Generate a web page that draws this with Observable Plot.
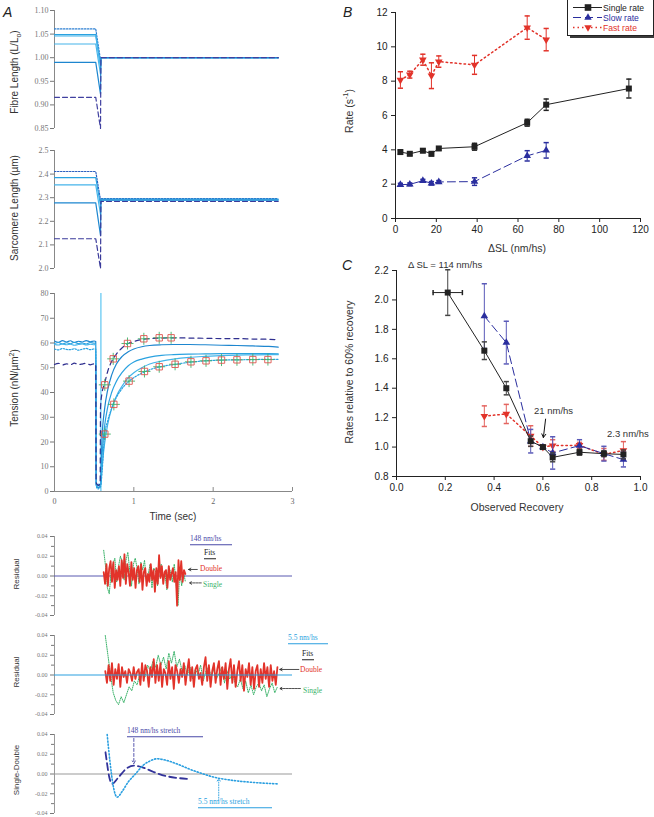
<!DOCTYPE html>
<html><head><meta charset="utf-8">
<script src="https://cdn.jsdelivr.net/npm/d3@7"></script>
<script src="https://cdn.jsdelivr.net/npm/@observablehq/plot@0.6"></script>
<style>
body{margin:0;background:#fff;}
#root{position:relative;width:654px;height:817px;overflow:hidden;font-family:"Liberation Sans",Arial,sans-serif;}
.t{position:absolute;white-space:nowrap;line-height:1;}
.t sub,.t sup{font-size:70%;line-height:0;}
svg{overflow:visible;}
</style></head><body><div id="root"></div>
<script>
// ================= DATA =================
// Panel A – length traces
const timeTicks = [0, 1, 2, 3];
const lenT = [0, 0.52, 0.58, 0.585, 2.82];
const fibrePre  = [1.061, 1.049, 1.046, 1.029, 0.990, 0.916];
const fibreMin  = [0.995, 0.986, 0.980, 0.965, 0.923, 0.850];
const fibrePost = [1.000, 1.000, 1.000, 1.000, 1.000, 1.000];
const fibreTicks = [0.85, 0.90, 0.95, 1.00, 1.05, 1.10];
const sarcPre  = [2.411, 2.385, 2.354, 2.278, 2.126];
const sarcMin  = [2.290, 2.268, 2.230, 2.140, 2.000];
const sarcPost = [2.296, 2.294, 2.291, 2.290, 2.284];
const sarcTicks = [2.0, 2.1, 2.2, 2.3, 2.4, 2.5];

// Panel A – tension
const tensionTicks = [0, 10, 20, 30, 40, 50, 60, 70, 80];
const tPre = [0, 0.05, 0.1, 0.15, 0.2, 0.25, 0.3, 0.35, 0.4, 0.45, 0.5, 0.52];
const tensionPre = [
  [60.8, 60.3, 61.0, 60.4, 60.9, 60.2, 60.7, 60.4, 61.0, 60.5, 60.8, 60.6],
  [59.8, 60.2, 59.6, 60.1, 59.7, 60.3, 59.8, 60.0, 59.6, 60.2, 59.9, 60.0],
  [59.4, 59.2, 59.6, 59.3, 59.5, 59.1, 59.4, 59.6, 59.2, 59.5, 59.3, 59.4],
  [57.6, 57.2, 57.8, 57.4, 57.3, 57.7, 57.1, 57.5, 57.8, 57.3, 57.6, 57.5],
  [51.3, 51.8, 51.1, 51.6, 51.2, 51.9, 51.3, 51.5, 51.8, 51.2, 51.6, 51.5]
];
const tDrop = [0.525, 0.55, 0.575];
const tensionDrop = [[3, 1.5, 2.5], [2, 3, 1.5], [1.5, 2.5, 3], [2.5, 1, 2], [3.5, 2.5, 3]];
const tRec = [0.58, 0.6, 0.63, 0.67, 0.72, 0.78, 0.85, 0.93, 1.0, 1.1, 1.2, 1.35, 1.5, 1.7, 1.9, 2.1, 2.3, 2.5, 2.7, 2.82];
const tensionRec = [
  [3, 22, 33, 41, 47, 51.5, 54.5, 56.5, 57.6, 58.5, 59, 59.3, 59.4, 59.4, 59.3, 59.1, 59, 58.8, 58.6, 58.3],
  [3, 15, 26, 34, 40, 44.5, 48, 50.8, 52.3, 53.5, 54.3, 55, 55.3, 55.5, 55.6, 55.7, 55.7, 55.7, 55.7, 55.6],
  [2, 10, 19, 27, 33.5, 38.5, 42.5, 46, 48, 50, 51.5, 52.7, 53.5, 54.2, 54.6, 54.9, 55.1, 55.2, 55.3, 55.3],
  [2, 8, 22.5, 28.5, 33.5, 38, 41.5, 44.3, 46, 47.8, 49.2, 50.5, 51.3, 52.2, 52.8, 53.1, 53.2, 53.3, 53.4, 53.4],
  [34, 40, 43.5, 48.5, 52.5, 55.5, 58, 59.8, 60.6, 61.4, 61.8, 62, 62.1, 62, 61.9, 61.8, 61.8, 61.6, 61.5, 61.3]
];
const spikeT = [0.585];
const spikeTop = [80];
const fitFastT = [0.634, 0.74, 0.92, 1.126, 1.32, 1.47];
const fitFastV = [43.1, 53.6, 59.8, 61.7, 62.1, 62.1];
const fitSlowT = [0.634, 0.748, 0.94, 1.134, 1.32, 1.52, 1.72, 1.91, 2.105, 2.30, 2.50, 2.69];
const fitSlowV = [23.2, 35.2, 44.6, 48.5, 50.4, 51.4, 52.4, 52.8, 53.1, 53.2, 53.3, 53.3];

// Residual panels
const resTicks = [-0.04, -0.02, 0, 0.02, 0.04];
const resMinor = [-0.03, -0.01, 0.01, 0.03];
const res1Span = [0.62, 1.65];
const res1Double = [0.004,-0.008,0.012,-0.01,0.008,0.015,-0.006,0.014,-0.012,0.006,-0.004,0.01,-0.01,0.016,-0.002,0.022,-0.008,0.012,0.004,-0.01,
  0.014,-0.004,0.008,-0.012,0.006,0.01,-0.006,0.012,-0.014,0.004,0.008,-0.01,0.002,-0.006,0.012,-0.004,0.006,-0.016,0.008,-0.008,
  0.021,-0.002,0.01,-0.008,0.004,0.006,-0.012,0.01,-0.004,0.002,0.008,-0.006,0.004,-0.03,0.016,-0.004,0.015,-0.006,0.006,0.002];
const res1Single = [0.026,0.01,-0.012,-0.018,0.004,0.012,0.018,-0.006,0.01,0.02,0.014,-0.004,0.016,0.024,0.006,-0.01,0.012,0.018,0.008,-0.008,
  0.014,0.006,0.016,-0.006,0.002,0.012,-0.012,0.008,0.004,-0.01,0.006,0.012,-0.004,0.002,-0.014,0.01,0.004,-0.006,0.012,-0.008,
  -0.03,0.006,-0.01,0.004,-0.006];
const res2Span = [0.64, 2.81];
const res2Double = [0.004,-0.008,0.01,-0.006,0.012,-0.01,0.006,-0.004,0.011,-0.012,0.008,-0.002,0.004,-0.008,0.006,0.002,-0.006,0.008,-0.004,0.003,
  0.006,-0.01,0.012,-0.006,0.01,0.004,-0.012,0.008,-0.002,0.016,-0.008,0.01,-0.006,0.012,-0.012,0.006,0.002,-0.01,0.014,-0.004,
  0.008,-0.014,0.01,0.004,-0.008,0.006,-0.002,0.012,-0.01,0.004,0.016,-0.006,0.008,-0.012,0.006,0.01,-0.004,0.002,-0.01,0.008,
  0.018,-0.006,0.01,-0.012,0.004,0.012,-0.008,0.006,0.014,-0.01,0.008,-0.004,0.012,-0.014,0.006,0.016,-0.008,0.01,-0.012,0.004,
  0.014,-0.006,0.01,-0.016,0.006,-0.002,0.012,-0.01,0.008,-0.014,0.004,0.01,-0.012,0.006,-0.008,0.012,-0.004,0.008,-0.012,0.01,
  -0.006,0.004,-0.01,0.008];
const res2Single = [0.04,0.02,0.0,-0.018,-0.026,-0.03,-0.022,-0.028,-0.02,-0.012,-0.016,-0.006,-0.01,0.0,0.006,-0.002,0.01,0.004,0.014,0.008,
  0.02,0.01,0.018,0.006,0.022,0.012,0.024,0.008,0.016,0.004,0.01,0.0,0.008,-0.004,0.006,0.0,0.01,-0.006,0.004,0.008,
  -0.002,0.006,-0.004,0.002,0.008,-0.008,0.004,-0.004,0.002,-0.008,-0.012,-0.004,-0.014,-0.006,-0.018,-0.01,-0.02,-0.012,-0.008,-0.016,
  -0.01,-0.022,-0.014,-0.008,-0.018,-0.012];
const sd148T = [0.643, 0.66, 0.69, 0.727, 0.8, 0.9, 1.0, 1.1, 1.25, 1.4, 1.55, 1.67];
const sd148V = [0.022, 0.012, -0.003, -0.01, -0.004, 0.005, 0.0085, 0.007, 0.002, -0.002, -0.004, -0.005];
const sd55T = [0.664, 0.7, 0.74, 0.79, 0.85, 0.93, 1.02, 1.12, 1.2, 1.29, 1.4, 1.55, 1.7, 1.84, 2.0, 2.26, 2.5, 2.81];
const sd55V = [0.04, 0.012, -0.012, -0.0235, -0.018, -0.008, 0.0, 0.009, 0.013, 0.0154, 0.014, 0.01, 0.005, 0.001, -0.003, -0.0066, -0.0085, -0.01];

// Panel B
const bXTicks = [0, 20, 40, 60, 80, 100, 120];
const bYTicks = [0, 2, 4, 6, 8, 10, 12];
const bX = [2.4, 7.0, 13.4, 17.6, 21.2, 38.7, 64.5, 73.8, 114.3];
const singleRate = [3.87, 3.77, 3.95, 3.77, 4.08, 4.18, 5.58, 6.63, 7.57];
const singleErr  = [0.12, 0.1, 0.1, 0.12, 0.1, 0.2, 0.2, 0.33, 0.55];
const bX2 = [2.4, 7.0, 13.4, 17.6, 21.2, 38.7, 64.5, 73.8];
const slowRate = [1.97, 1.99, 2.2, 2.05, 2.13, 2.15, 3.65, 3.97];
const slowErr  = [0.08, 0.08, 0.08, 0.1, 0.08, 0.22, 0.3, 0.45];
const fastRate = [8.07, 8.38, 9.25, 8.32, 9.14, 8.95, 11.12, 10.42];
const fastErr  = [0.48, 0.2, 0.32, 0.75, 0.33, 0.55, 0.68, 0.65];
const legendLabels = ["Single rate", "Slow rate", "Fast rate"];

// Panel C
const cXTicks = [0, 0.2, 0.4, 0.6, 0.8, 1.0];
const cYTicks = [0.8, 1.0, 1.2, 1.4, 1.6, 1.8, 2.0, 2.2];
const cX = [0.21, 0.36, 0.45, 0.55, 0.60, 0.64, 0.75, 0.85, 0.93];
const cSingle = [2.05, 1.655, 1.40, 1.04, 1.00, 0.93, 0.965, 0.955, 0.95];
const cSingleErr = [0.155, 0.06, 0.045, 0.035, 0.01, 0.03, 0.02, 0.02, 0.03];
const cSingleXErr = [0.06, 0, 0, 0, 0, 0, 0, 0, 0];
const cX2 = [0.36, 0.45, 0.55, 0.60, 0.64, 0.75, 0.85, 0.93];
const cSlow = [1.89, 1.71, 1.04, 1.00, 0.96, 1.01, 0.955, 0.915];
const cSlowErr = [0.22, 0.145, 0.08, 0.01, 0.11, 0.04, 0.05, 0.05];
const cFast = [1.21, 1.225, 1.075, 1.00, 1.01, 1.012, 0.95, 0.977];
const cFastErr = [0.07, 0.065, 0.07, 0.01, 0.04, 0.02, 0.04, 0.06];

// ================= STYLES / HELPERS =================
const root = document.getElementById("root");
const SANS = '"Liberation Sans", Arial, sans-serif';
const SERIF = '"Liberation Serif", "Times New Roman", serif';
const CY = "#2aa2e0", CY2 = "#1d86cf", CY3 = "#45b4ea", NAVY = "#2f2f8f", RED = "#e2332a", GREEN = "#3bb36a";
const BLUE = "#2a2e9e";

function place(svg, left, top) {
  svg.style.position = "absolute";
  svg.style.left = left + "px";
  svg.style.top = top + "px";
  root.appendChild(svg);
}
function txt(html, x, y, o = {}) {
  const d = document.createElement("div");
  d.className = "t";
  d.innerHTML = html;
  d.style.left = x + "px";
  d.style.top = y + "px";
  d.style.fontSize = (o.size || 10) + "px";
  d.style.fontFamily = o.family || SANS;
  d.style.color = o.color || "#333";
  if (o.italic) d.style.fontStyle = "italic";
  let tf = o.anchor === "middle" ? "translate(-50%,-50%)" : "translate(0,-50%)";
  if (o.rotate) tf += " rotate(" + o.rotate + "deg)";
  d.style.transform = tf;
  if (o.underline) { d.style.borderBottom = "1px solid " + (o.color || "#333"); d.style.width = o.underline + "px"; d.style.paddingBottom = "1px"; }
  root.appendChild(d);
}
const sym = {
  square: {draw(c, s) { const r = Math.sqrt(s / Math.PI); c.rect(-r, -r, 2 * r, 2 * r); }},
  triUp: {draw(c, s) { const r = Math.sqrt(s / Math.PI) * 1.3; c.moveTo(0, -r); c.lineTo(r * 0.866, r * 0.5); c.lineTo(-r * 0.866, r * 0.5); c.closePath(); }},
  triDown: {draw(c, s) { const r = Math.sqrt(s / Math.PI) * 1.3; c.moveTo(0, r); c.lineTo(r * 0.866, -r * 0.5); c.lineTo(-r * 0.866, -r * 0.5); c.closePath(); }},
  hcap: {draw(c, s) { const r = Math.sqrt(s / Math.PI); c.moveTo(-r, 0); c.lineTo(r, 0); }},
  vcap: {draw(c, s) { const r = Math.sqrt(s / Math.PI); c.moveTo(0, -r); c.lineTo(0, r); }},
  plus: {draw(c, s) { const r = Math.sqrt(s / Math.PI); c.moveTo(-r, 0); c.lineTo(r, 0); c.moveTo(0, -r); c.lineTo(0, r); }}
};

function aPlot(height, mt, mb, ydomain, fontSize, marks) {
  return Plot.plot({
    width: 300, height, marginLeft: 54, marginRight: 8, marginTop: mt, marginBottom: mb,
    x: {domain: [0, 3], axis: null}, y: {domain: ydomain, axis: null},
    style: {fontFamily: SERIF, fontSize: fontSize + "px", color: "#666", background: "transparent", overflow: "visible"},
    marks
  });
}
const yAxisA = (ticks, fmt) => [
  Plot.axisY({ticks, tickFormat: fmt, tickSize: 4, tickPadding: 2, label: null, color: "#777", fontFamily: SERIF}),
  Plot.ruleX([0], {stroke: "#888"})
];

// ---- A1 fibre length
const fibreStyle = [
  {stroke: "#2b7fd2", dash: "1.5,1.5"}, {stroke: CY, dash: null}, {stroke: CY3, dash: null},
  {stroke: CY3, dash: null}, {stroke: CY2, dash: null}, {stroke: "#4040a0", dash: "5,3"}
];
const lenMarks = (pre, mn, post, styles) => pre.map((p, i) =>
  Plot.line(lenT.map((t, j) => ({t, v: [p, p, mn[i], post[i], post[i]][j]})),
    {x: "t", y: "v", stroke: styles[i].stroke, strokeWidth: 1.2, strokeDasharray: styles[i].dash}));
place(aPlot(140, 10, 12, [0.85, 1.10], 8, [
  ...yAxisA(fibreTicks, d3.format(".2f")),
  ...lenMarks(fibrePre, fibreMin, fibrePost, fibreStyle)
]), 0, 0);

// ---- A2 sarcomere length
const sarcStyle = [
  {stroke: "#2b5fbf", dash: "1.5,1.5"}, {stroke: CY, dash: null}, {stroke: CY3, dash: null},
  {stroke: CY2, dash: null}, {stroke: "#3a3a9a", dash: "5,3"}
];
place(aPlot(140, 10, 12, [2.0, 2.5], 8, [
  ...yAxisA(sarcTicks, d3.format(".1f")),
  ...lenMarks(sarcPre, sarcMin, sarcPost, sarcStyle)
]), 0, 140);

// ---- A3 tension
const tensionStyle = [
  {stroke: CY2, dash: null}, {stroke: CY, dash: null}, {stroke: CY3, dash: null},
  {stroke: CY, dash: "1.5,1.5"}, {stroke: NAVY, dash: "5,4"}
];
const tensionTraces = tensionPre.map((pre, i) => [
  ...tPre.map((t, j) => ({t, v: pre[j]})),
  ...tDrop.map((t, j) => ({t, v: tensionDrop[i][j]})),
  ...tRec.map((t, j) => ({t, v: tensionRec[i][j]}))
]);
const fitFast = fitFastT.map((t, i) => ({t, v: fitFastV[i]}));
const fitSlow = fitSlowT.map((t, i) => ({t, v: fitSlowV[i]}));
place(aPlot(245, 13, 34, [0, 80], 8, [
  ...yAxisA(tensionTicks, d3.format("d")),
  Plot.axisX({ticks: timeTicks, tickFormat: d3.format("d"), tickSize: 0, tickPadding: 7, label: null, color: "#666", fontFamily: SERIF}),
  Plot.ruleY([0], {stroke: "#888"}),
  Plot.ruleX(timeTicks, {x: d => d, y1: 0, y2: 1.6, stroke: "#888"}),
  Plot.ruleX(spikeT, {x: d => d, y1: 0, y2: (d, i) => spikeTop[i], stroke: "#5cc6f2", strokeWidth: 1.2}),
  ...tensionTraces.map((tr, i) => Plot.line(tr, {x: "t", y: "v", stroke: tensionStyle[i].stroke, strokeWidth: 1.2, strokeDasharray: tensionStyle[i].dash, curve: "monotone-x"})),
  ...[fitFast, fitSlow].flatMap(d => [
    Plot.dot(d, {x: "t", y: "v", symbol: sym.plus, r: 6, stroke: GREEN, strokeWidth: 0.9, fill: "none"}),
    Plot.dot(d, {x: "t", y: "v", symbol: sym.square, r: 3.2, stroke: "#e0554f", strokeWidth: 0.9, fill: "none"})
  ])
]), 0, 280);

// ---- Residual panels
const spread = (span, vals) => vals.map((v, i) => ({t: span[0] + i * (span[1] - span[0]) / (vals.length - 1), v}));
const fmtRes = d => (d < 0 ? "-" : "") + Math.abs(d).toFixed(2);
const resAxis = () => [
  Plot.axisY({ticks: resTicks, tickFormat: fmtRes, tickSize: 4, tickPadding: 3, label: null, color: "#777", fontFamily: SERIF}),
  Plot.axisY({ticks: resMinor, tickFormat: () => "", tickSize: 3, label: null, color: "#777"}),
  Plot.ruleX([0], {stroke: "#999"})
];
place(aPlot(100, 11, 10, [-0.04, 0.04], 6, [
  ...resAxis(),
  Plot.ruleY([0], {stroke: "#5858b0", strokeWidth: 1}),
  Plot.line(spread(res1Span, res1Single), {x: "t", y: "v", stroke: GREEN, strokeWidth: 1, strokeDasharray: "1,1.2"}),
  Plot.line(spread(res1Span, res1Double), {x: "t", y: "v", stroke: RED, strokeWidth: 1.8}),
  Plot.arrow([{x1: 1.80, x2: 1.69, y: 0.0066}], {x1: "x1", x2: "x2", y1: "y", y2: "y", stroke: "#222", headLength: 5, strokeWidth: 0.8}),
  Plot.arrow([{x1: 1.85, x2: 1.70, y: -0.007}], {x1: "x1", x2: "x2", y1: "y", y2: "y", stroke: "#222", headLength: 5, strokeWidth: 0.8, strokeDasharray: "2,1"})
]), 0, 525);

place(aPlot(100, 15, 6, [-0.04, 0.04], 6, [
  ...resAxis(),
  Plot.line(spread(res2Span, res2Single), {x: "t", y: "v", stroke: GREEN, strokeWidth: 1, strokeDasharray: "1,1.2"}),
  Plot.line(spread(res2Span, res2Double), {x: "t", y: "v", stroke: RED, strokeWidth: 1.8}),
  Plot.ruleY([0], {stroke: "#2a9fe0", strokeWidth: 1.2}),
  Plot.arrow([{x1: 3.08, x2: 2.84, y: 0.0056}], {x1: "x1", x2: "x2", y1: "y", y2: "y", stroke: "#222", headLength: 5, strokeWidth: 0.8}),
  Plot.arrow([{x1: 3.10, x2: 2.84, y: -0.0137}], {x1: "x1", x2: "x2", y1: "y", y2: "y", stroke: "#222", headLength: 5, strokeWidth: 0.8, strokeDasharray: "2,1"})
]), 0, 620);

place(aPlot(97, 14, 4, [-0.04, 0.04], 6, [
  ...resAxis(),
  Plot.ruleY([0], {stroke: "#999", strokeWidth: 1.2}),
  Plot.line(sd148T.map((t, i) => ({t, v: sd148V[i]})), {x: "t", y: "v", stroke: "#33339a", strokeWidth: 1.8, strokeDasharray: "7,4", curve: "monotone-x"}),
  Plot.line(sd55T.map((t, i) => ({t, v: sd55V[i]})), {x: "t", y: "v", stroke: "#2a9fe0", strokeWidth: 1.6, strokeDasharray: "1.2,2", curve: "monotone-x"}),
  Plot.arrow([{x: 1.0, y1: 0.036, y2: 0.0106}], {x1: "x", x2: "x", y1: "y1", y2: "y2", stroke: "#4646a6", headLength: 5, strokeWidth: 0.9, strokeDasharray: "3,2"}),
  Plot.arrow([{x: 2.07, y1: -0.027, y2: -0.0045}], {x1: "x", x2: "x", y1: "y1", y2: "y2", stroke: "#2a9fe0", headLength: 5, strokeWidth: 0.9, strokeDasharray: "1,1.5"})
]), 0, 720);

// ---- Panel B
const mk = (xs, ys, es) => xs.map((x, i) => ({x, y: ys[i], e: es[i]}));
function seriesMarks(data, color, errColor, dash, width, symbol, r) {
  return [
    Plot.line(data, {x: "x", y: "y", stroke: color, strokeWidth: width, strokeDasharray: dash}),
    Plot.ruleX(data, {x: "x", y1: d => d.y - d.e, y2: d => d.y + d.e, stroke: errColor, strokeWidth: 1}),
    Plot.dot(data, {x: "x", y: d => d.y + d.e, symbol: sym.hcap, r: 2.6, stroke: errColor, fill: "none"}),
    Plot.dot(data, {x: "x", y: d => d.y - d.e, symbol: sym.hcap, r: 2.6, stroke: errColor, fill: "none"}),
    Plot.dot(data, {x: "x", y: "y", symbol, r, fill: color, stroke: "none"})
  ];
}
const bStyle = {fontFamily: SANS, fontSize: "10px", color: "#222", background: "transparent", overflow: "visible"};
place(Plot.plot({
  width: 324, height: 235, marginLeft: 65, marginRight: 14, marginTop: 12, marginBottom: 17,
  x: {domain: [0, 120], axis: null}, y: {domain: [0, 12], axis: null}, style: bStyle,
  marks: [
    Plot.axisY({ticks: bYTicks, tickSize: 4, tickPadding: 4, label: null}),
    Plot.axisX({ticks: bXTicks, tickSize: 4, tickPadding: 3, label: null}),
    Plot.ruleX([0], {stroke: "#222"}), Plot.ruleY([0], {stroke: "#222"}),
    ...seriesMarks(mk(bX2, fastRate, fastErr), RED, RED, "1.5,3", 1.5, sym.triDown, 3.4),
    ...seriesMarks(mk(bX2, slowRate, slowErr), BLUE, BLUE, "8,4", 1, sym.triUp, 3.4),
    ...seriesMarks(mk(bX, singleRate, singleErr), "#222", "#222", null, 1, sym.square, 3)
  ]
}), 330, 0);

// legend
const leg = d3.create("svg").attr("width", 92).attr("height", 42);
leg.append("rect").attr("x", 4).attr("y", -2).attr("width", 86).attr("height", 40).attr("fill", "#3a3a3a");
leg.append("rect").attr("x", 1.5).attr("y", -4).attr("width", 86).attr("height", 39.5).attr("fill", "#fff").attr("stroke", "#222");
const legColor = ["#222", BLUE, RED], legDash = [null, "8,4", "1.5,3"], legSym = [sym.square, sym.triUp, sym.triDown], legY = [7.5, 17.5, 27.5];
legendLabels.forEach((lab, i) => {
  leg.append("line").attr("x1", 7).attr("x2", 36).attr("y1", legY[i]).attr("y2", legY[i])
    .attr("stroke", legColor[i]).attr("stroke-width", i === 2 ? 1.5 : 1).attr("stroke-dasharray", legDash[i]);
  const p = d3.path(); legSym[i].draw(p, Math.PI * 3.3 * 3.3);
  leg.append("path").attr("d", p.toString()).attr("transform", `translate(22,${legY[i]})`).attr("fill", legColor[i]);
  leg.append("text").attr("x", 37).attr("y", legY[i]).attr("dy", "0.35em").attr("fill", legColor[i])
    .attr("font-family", SANS).attr("font-size", 8.6).text(lab);
});
place(leg.node(), 566, 0);

// ---- Panel C
const cData = cX.map((x, i) => ({x, y: cSingle[i], e: cSingleErr[i], xe: cSingleXErr[i]}));
const cXErr = cData.filter(d => d.xe > 0);
place(Plot.plot({
  width: 324, height: 240, marginLeft: 66, marginRight: 14, marginTop: 15, marginBottom: 19,
  x: {domain: [0, 1], axis: null}, y: {domain: [0.8, 2.2], axis: null}, style: bStyle,
  marks: [
    Plot.axisY({ticks: cYTicks, tickFormat: d3.format(".1f"), tickSize: 4, tickPadding: 4, label: null}),
    Plot.axisX({ticks: cXTicks, tickFormat: d3.format(".1f"), tickSize: 4, tickPadding: 3, label: null}),
    Plot.ruleX([0], {stroke: "#222"}), Plot.ruleY([0.8], {stroke: "#222"}),
    ...seriesMarks(mk(cX2, cFast, cFastErr), RED, "#e46560", "1.5,3", 1.5, sym.triDown, 3.4),
    ...seriesMarks(mk(cX2, cSlow, cSlowErr), BLUE, "#5a5ab8", "8,4", 1, sym.triUp, 3.4),
    Plot.ruleY(cXErr, {y: "y", x1: d => d.x - d.xe, x2: d => d.x + d.xe, stroke: "#222"}),
    Plot.dot(cXErr, {x: d => d.x - d.xe, y: "y", symbol: sym.vcap, r: 2.6, stroke: "#222", fill: "none"}),
    Plot.dot(cXErr, {x: d => d.x + d.xe, y: "y", symbol: sym.vcap, r: 2.6, stroke: "#222", fill: "none"}),
    ...seriesMarks(mk(cX, cSingle, cSingleErr), "#222", "#444", null, 1, sym.square, 3),
    Plot.arrow([{x1: 0.611, y1: 1.19, x2: 0.602, y2: 1.065}], {x1: "x1", y1: "y1", x2: "x2", y2: "y2", stroke: "#111", headLength: 6, strokeWidth: 1})
  ]
}), 330, 255);

// ================= TEXT =================
txt("A", 3, 12, {size: 14, italic: true, color: "#222"});
txt("B", 343, 12, {size: 14, italic: true, color: "#222"});
txt("C", 342, 265, {size: 14, italic: true, color: "#222"});
txt("Fibre Length (L/L<sub>o</sub>)", 15, 72, {anchor: "middle", rotate: -90, size: 10});
txt("Sarcomere Length (µm)", 15, 208, {anchor: "middle", rotate: -90, size: 10});
txt("Tension (nN/µm<sup>2</sup>)", 15, 388, {anchor: "middle", rotate: -90, size: 10});
txt("Time (sec)", 173, 517, {anchor: "middle", size: 10});
txt("Residual", 17, 574, {anchor: "middle", rotate: -90, size: 8});
txt("Residual", 17, 672, {anchor: "middle", rotate: -90, size: 8});
txt("Single-Double", 17, 770, {anchor: "middle", rotate: -90, size: 8});
txt("Rate (s<sup>-1</sup>)", 349, 111, {anchor: "middle", rotate: -90, size: 10.5});
txt("ΔSL (nm/hs)", 517, 248, {anchor: "middle", size: 10.5});
txt("Rates relative to 60% recovery", 349, 372, {anchor: "middle", rotate: -90, size: 10.5});
txt("Observed Recovery", 517, 507, {anchor: "middle", size: 10.5});
txt("Δ SL = 114 nm/hs", 408, 265, {size: 9.5});
txt("21 nm/hs", 534, 411, {size: 9.5});
txt("2.3 nm/hs", 607, 434, {size: 9.5});
// residual annotations
txt("148 nm/hs", 190, 540, {size: 7.5, family: SERIF, color: "#4a4aa8", underline: 42});
txt("Fits", 204, 554, {size: 7.5, family: SERIF, color: "#222", underline: 12});
txt("Double", 200, 569, {size: 7.5, family: SERIF, color: RED});
txt("Single", 203, 585, {size: 7.5, family: SERIF, color: GREEN});
txt("5.5 nm/hs", 288, 639, {size: 7.5, family: SERIF, color: "#2a9fe0", underline: 40});
txt("Fits", 302, 655, {size: 7.5, family: SERIF, color: "#222", underline: 12});
txt("Double", 300, 670, {size: 7.5, family: SERIF, color: RED});
txt("Single", 303, 691, {size: 7.5, family: SERIF, color: GREEN});
txt("148 nm/hs stretch", 127, 732, {size: 7.5, family: SERIF, color: "#4a4aa8", underline: 76});
txt("5.5 nm/hs stretch", 198, 803, {size: 7.5, family: SERIF, color: "#2a9fe0", underline: 74});
</script></body></html>
